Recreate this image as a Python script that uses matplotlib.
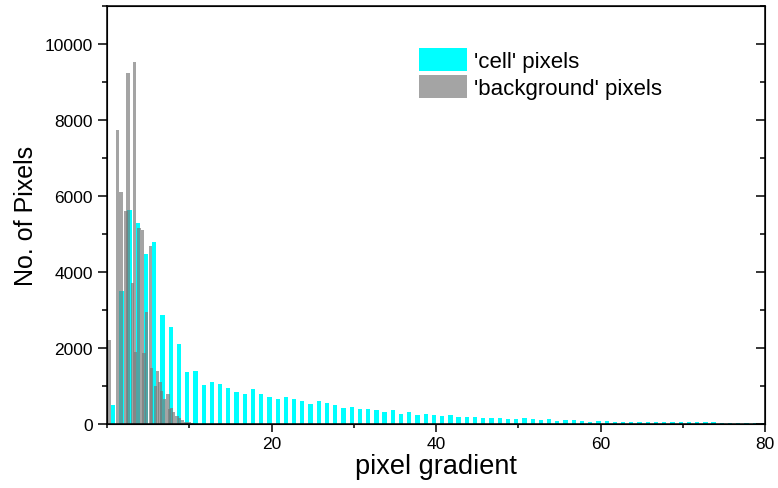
import numpy as np
import matplotlib
matplotlib.use('Agg')
import matplotlib.pyplot as plt
from matplotlib.ticker import MultipleLocator

plt.rcParams['font.family'] = ['Liberation Sans', 'DejaVu Sans']

# 'cell' pixels: one bar per unit bin of gradient (bins 0..79)
cell_bins = np.arange(80)
cell_counts = [500, 3500, 5640, 5290, 4470, 4780, 2860, 2560, 2100, 1380,
               1400, 1035, 1115, 1050, 940, 850, 790, 910, 790, 710,
               670, 710, 670, 610, 515, 595, 550, 495, 420, 455,
               395, 395, 370, 315, 370, 265, 305, 245, 270, 235,
               200, 225, 195, 195, 175, 150, 150, 150, 130, 130,
               150, 140, 110, 125, 80, 95, 95, 90, 60, 70,
               70, 65, 60, 60, 50, 50, 50, 55, 45, 45,
               40, 40, 40, 40, 35, 35, 35, 35, 35, 35]

# 'background' pixels: narrow bars at the positions
bg_pos = [0.25, 1.3, 1.7, 2.3, 2.55, 3.1, 3.35, 3.5, 3.9, 4.3, 4.5, 4.8,
          5.3, 5.45, 5.9, 6.1, 6.45, 6.65, 7.0, 7.4, 7.6, 7.85, 8.1, 8.5,
          8.8, 9.2, 9.6, 10.0, 10.4]
bg_counts = [2200, 7750, 6100, 5600, 9250, 3700, 9530, 1900, 5160, 5100, 1870, 2950,
             4680, 1470, 1000, 1400, 1100, 870, 650, 800, 400, 420, 320, 220,
             150, 100, 60, 40, 30]

CELL_COLOR = '#00FFFF'
BG_COLOR = '#787878'

fig = plt.figure(figsize=(7.78, 4.89), dpi=100)
ax = fig.add_axes([107 / 778, 64 / 489, 658 / 778, 418 / 489])

ax.bar(cell_bins + 0.75, cell_counts, width=0.52, color=CELL_COLOR, lw=0,
       label="'cell' pixels")
ax.bar(bg_pos, bg_counts, width=0.4, color=BG_COLOR, alpha=0.67, lw=0,
       label="'background' pixels")

ax.set_xlim(0, 80)
ax.set_ylim(0, 11000)
ax.xaxis.set_major_locator(MultipleLocator(20))
ax.xaxis.set_minor_locator(MultipleLocator(10))
ax.yaxis.set_major_locator(MultipleLocator(2000))
ax.yaxis.set_minor_locator(MultipleLocator(1000))
ax.set_xticks([20, 40, 60, 80])
ax.tick_params(which='major', direction='out', length=6.5, width=1.1, labelsize=12.5)
ax.tick_params(which='minor', direction='out', length=3.5, width=1.1)
ax.tick_params(axis='x', which='major', length=5.5)
ax.tick_params(axis='x', which='minor', length=3)
for s in ax.spines.values():
    s.set_linewidth(1.1)

ax2 = ax.twinx()
ax2.set_ylim(ax.get_ylim())
ax2.yaxis.set_major_locator(MultipleLocator(2000))
ax2.yaxis.set_minor_locator(MultipleLocator(1000))
ax2.tick_params(which='major', direction='in', length=6.5, width=1.1, labelright=False)
ax2.tick_params(which='minor', direction='in', length=3.5, width=1.1)

ax.set_xlabel('pixel gradient', fontsize=19.5, labelpad=1)
ax.set_ylabel('No. of Pixels', fontsize=18, labelpad=5)

ax.legend(loc='upper left', bbox_to_anchor=(0.46, 0.921), frameon=False,
          fontsize=16, handlelength=2.2, handleheight=1.2, handletextpad=0.3,
          labelspacing=0.15, borderaxespad=0)

fig.savefig('out.png', dpi=100)
